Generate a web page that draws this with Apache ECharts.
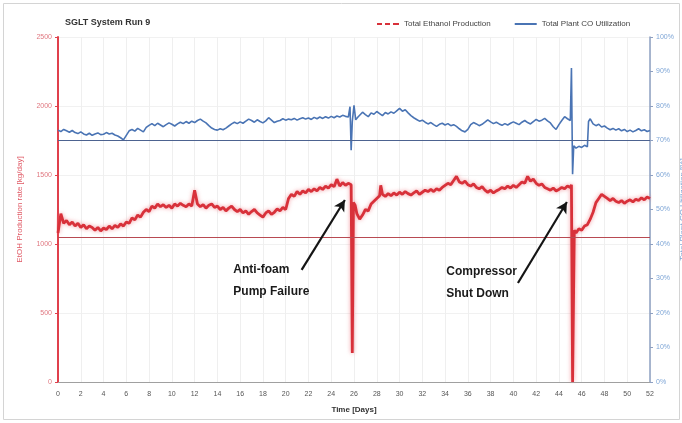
<!DOCTYPE html>
<html>
<head>
<meta charset="utf-8">
<script src="https://cdn.jsdelivr.net/npm/echarts@6/dist/echarts.min.js"></script>
<style>
  html, body { margin: 0; padding: 0; background: #fff; }
  #chart { width: 682px; height: 423px; }
</style>
</head>
<body>
<div id="chart"></div>
<script>
// Total ethanol production, [day, kg/day]
const ethanolProduction = [
  [0,1080],[0.25,1220],[0.5,1150],[0.75,1170],[1,1140],[1.25,1160],[1.5,1130],[1.75,1150],
  [2,1120],[2.25,1140],[2.5,1110],[2.75,1130],[3,1120],[3.25,1100],[3.5,1120],[3.75,1095],
  [4,1115],[4.25,1105],[4.5,1130],[4.75,1110],[5,1135],[5.25,1120],[5.5,1145],[5.75,1130],
  [6,1160],[6.25,1150],[6.5,1190],[6.75,1175],[7,1210],[7.25,1195],[7.5,1230],[7.75,1250],
  [8,1235],[8.25,1275],[8.5,1260],[8.75,1290],[9,1270],[9.25,1285],[9.5,1265],[9.75,1280],
  [10,1260],[10.25,1290],[10.5,1275],[10.75,1295],[11,1280],[11.25,1270],[11.5,1290],[11.75,1275],
  [12,1390],[12.25,1290],[12.5,1270],[12.75,1285],[13,1260],[13.25,1280],[13.5,1290],[13.75,1265],
  [14,1275],[14.25,1250],[14.5,1265],[14.75,1240],[15,1260],[15.25,1275],[15.5,1250],[15.75,1235],
  [16,1250],[16.25,1225],[16.5,1240],[16.75,1215],[17,1235],[17.25,1250],[17.5,1225],[17.75,1210],
  [18,1195],[18.25,1225],[18.5,1240],[18.75,1215],[19,1230],[19.25,1255],[19.5,1240],[19.75,1265],
  [20,1250],[20.25,1330],[20.5,1360],[20.75,1345],[21,1380],[21.25,1360],[21.5,1385],[21.75,1370],
  [22,1395],[22.25,1380],[22.5,1400],[22.75,1385],[23,1410],[23.25,1395],[23.5,1420],[23.75,1405],
  [24,1430],[24.25,1415],[24.5,1470],[24.75,1420],[25,1445],[25.25,1425],[25.5,1440],[25.75,1430],
  [25.85,210],[25.95,1300],[26.1,1280],[26.25,1220],[26.5,1180],[26.75,1210],[27,1250],[27.25,1240],
  [27.5,1290],[27.75,1310],[28,1330],[28.25,1350],[28.35,1425],[28.5,1360],[28.75,1345],
  [29,1365],[29.25,1350],[29.5,1370],[29.75,1355],[30,1375],[30.25,1360],[30.5,1380],[30.75,1365],
  [31,1355],[31.25,1370],[31.5,1385],[31.75,1360],[32,1375],[32.25,1390],[32.5,1380],[32.75,1395],
  [33,1380],[33.25,1400],[33.5,1390],[33.75,1410],[34,1425],[34.25,1440],[34.5,1430],[34.75,1460],
  [35,1490],[35.25,1450],[35.5,1440],[35.75,1455],[36,1430],[36.25,1420],[36.5,1435],[36.75,1410],
  [37,1400],[37.25,1415],[37.5,1390],[37.75,1375],[38,1390],[38.25,1370],[38.5,1385],[38.75,1395],
  [39,1410],[39.25,1400],[39.5,1420],[39.75,1405],[40,1425],[40.25,1410],[40.5,1430],[40.75,1450],
  [41,1440],[41.25,1490],[41.5,1455],[41.75,1470],[42,1440],[42.25,1425],[42.5,1435],[42.75,1410],
  [43,1400],[43.25,1390],[43.5,1405],[43.75,1385],[44,1395],[44.25,1410],[44.5,1400],[44.75,1420],
  [45,1410],[45.1,1430],[45.2,0],[45.35,1100],[45.5,1080],[45.75,1110],[46,1100],[46.25,1130],
  [46.5,1140],[46.75,1180],[47,1230],[47.25,1300],[47.5,1330],[47.75,1360],[48,1345],[48.25,1330],
  [48.5,1315],[48.75,1330],[49,1310],[49.25,1300],[49.5,1315],[49.75,1295],[50,1310],[50.25,1320],
  [50.5,1305],[50.75,1325],[51,1315],[51.25,1335],[51.5,1320],[51.75,1340],[52,1330]
];

// Total plant CO utilization, [day, %]
const coUtilization = [
  [0,73.0],[0.25,72.6],[0.5,73.2],[0.75,72.8],[1,72.4],[1.25,72.9],[1.5,72.3],[1.75,72.0],
  [2,72.5],[2.25,71.9],[2.5,71.6],[2.75,72.1],[3,71.5],[3.25,71.9],[3.5,72.2],[3.75,71.7],
  [4,71.8],[4.25,72.3],[4.5,71.9],[4.75,72.1],[5,71.6],[5.25,71.3],[5.5,70.8],[5.75,70.2],
  [6,71.5],[6.25,72.8],[6.5,73.2],[6.75,72.7],[7,73.5],[7.25,73.0],[7.5,72.5],[7.75,73.8],
  [8,74.4],[8.25,74.9],[8.5,74.3],[8.75,75.0],[9,74.5],[9.25,74.0],[9.5,74.6],[9.75,75.1],
  [10,74.7],[10.25,74.2],[10.5,74.8],[10.75,75.3],[11,74.9],[11.25,75.5],[11.5,75.0],[11.75,75.6],
  [12,75.2],[12.25,75.8],[12.5,76.2],[12.75,75.6],[13,75.1],[13.25,74.3],[13.5,73.6],[13.75,73.2],
  [14,73.0],[14.25,73.4],[14.5,73.1],[14.75,73.6],[15,74.2],[15.25,74.8],[15.5,75.3],[15.75,74.9],
  [16,75.4],[16.25,75.0],[16.5,75.6],[16.75,76.2],[17,75.8],[17.25,75.3],[17.5,76.0],[17.75,75.5],
  [18,75.1],[18.25,75.7],[18.5,76.6],[18.75,75.9],[19,75.2],[19.25,75.6],[19.5,75.8],[19.75,76.3],
  [20,75.9],[20.25,76.2],[20.5,76.0],[20.75,76.4],[21,75.9],[21.25,76.3],[21.5,76.6],[21.75,76.2],
  [22,76.5],[22.25,76.1],[22.5,76.7],[22.75,76.3],[23,76.8],[23.25,76.4],[23.5,76.9],[23.75,76.5],
  [24,77.0],[24.25,76.6],[24.5,77.1],[24.75,76.8],[25,77.3],[25.25,77.0],[25.5,76.8],[25.65,79.8],
  [25.75,67.2],[25.85,75.5],[26,80.2],[26.15,76.0],[26.35,76.8],[26.5,77.3],[26.75,78.2],[27,77.5],
  [27.25,76.9],[27.5,78.0],[27.75,77.6],[28,78.4],[28.25,77.8],[28.5,77.2],[28.75,78.1],[29,77.7],
  [29.25,78.3],[29.5,77.9],[29.75,78.6],[30,79.3],[30.25,78.5],[30.5,78.9],[30.75,78.0],[31,77.2],
  [31.25,76.6],[31.5,76.1],[31.75,75.6],[32,75.9],[32.25,75.3],[32.5,74.8],[32.75,75.2],[33,74.6],
  [33.25,74.1],[33.5,74.7],[33.75,75.0],[34,74.5],[34.25,74.9],[34.5,74.3],[34.75,74.6],[35,74.1],
  [35.25,73.4],[35.5,72.8],[35.75,72.5],[36,73.2],[36.25,74.6],[36.5,75.2],[36.75,74.8],[37,74.3],
  [37.25,74.7],[37.5,75.3],[37.75,76.0],[38,75.4],[38.25,74.9],[38.5,75.3],[38.75,74.8],[39,74.4],
  [39.25,74.9],[39.5,74.5],[39.75,75.0],[40,75.4],[40.25,75.0],[40.5,74.6],[40.75,75.3],[41,75.8],
  [41.25,75.2],[41.5,74.8],[41.75,75.5],[42,76.1],[42.25,75.6],[42.5,75.9],[42.75,76.4],[43,75.7],
  [43.25,75.1],[43.5,74.0],[43.75,73.2],[44,74.6],[44.25,75.8],[44.5,76.9],[44.75,76.3],[45,75.8],
  [45.1,91.0],[45.2,60.2],[45.3,68.5],[45.5,67.8],[45.75,68.3],[46,68.0],[46.25,68.6],[46.5,68.2],
  [46.6,75.5],[46.75,76.3],[47,74.8],[47.25,74.3],[47.5,74.7],[47.75,73.9],[48,74.2],[48.25,73.6],
  [48.5,73.1],[48.75,73.5],[49,73.0],[49.25,73.4],[49.5,72.8],[49.75,73.2],[50,72.6],[50.25,73.0],
  [50.5,72.5],[50.75,72.9],[51,73.4],[51.25,72.8],[51.5,73.1],[51.75,72.6],[52,72.9]
];

// Reference levels
const ethanolTarget = 1050;   // kg/day
const coTarget = 70;          // %

// Event annotations: text anchor [day, kg/day], arrow from/to [day, kg/day]
const eventLabels = ['Anti-foam\nPump Failure', 'Compressor\nShut Down'];
const eventTextAt = [[15.4, 890], [34.1, 880]];
const eventArrowFrom = [[21.4, 812], [40.4, 717]];
const eventArrowTo = [[25.2, 1319], [44.7, 1304]];

const RED = '#d8313a';
const BLUE = '#4a74b4';

const chart = echarts.init(document.getElementById('chart'));

const arrowLines = eventArrowFrom.map((from, i) => [
  { coord: from },
  { coord: eventArrowTo[i] }
]);

chart.setOption({
  animation: false,
  title: {
    text: 'SGLT System Run 9',
    left: 60, top: 13,
    textStyle: { fontFamily: 'Liberation Sans', fontSize: 9, fontWeight: 'bold', color: '#333' }
  },
  legend: {
    left: 372, top: 15,
    itemWidth: 22, itemHeight: 2, itemGap: 24,
    textStyle: { fontFamily: 'Liberation Sans', fontSize: 8, color: '#444' },
    data: [
      { name: 'Total Ethanol Production', icon: 'path://M0,0h5v2h-5z M8,0h5v2h-5z M16,0h6v2h-6z' },
      { name: 'Total Plant CO Utilization', icon: 'rect' }
    ]
  },
  grid: { left: 58, right: 32, top: 37, bottom: 41, containLabel: false, outerBoundsMode: 'none' },
  xAxis: {
    type: 'value', min: 0, max: 52, interval: 2,
    name: 'Time [Days]', nameLocation: 'middle', nameGap: 24,
    nameTextStyle: { fontFamily: 'Liberation Sans', fontSize: 8, fontWeight: 'bold', color: '#333' },
    axisLine: { lineStyle: { color: '#a0a0a0', width: 1 } },
    axisTick: { show: false },
    axisLabel: { fontFamily: 'Liberation Sans', fontSize: 7, color: '#555', margin: 9 },
    splitLine: { show: true, lineStyle: { color: '#efefef', width: 1 } }
  },
  yAxis: [
    {
      type: 'value', min: 0, max: 2500, interval: 500,
      name: 'EtOH Production rate [kg/day]', nameLocation: 'middle', nameGap: 34,
      nameTextStyle: { fontFamily: 'Liberation Sans', fontSize: 8, color: '#e05a66' },
      axisLine: { show: true, lineStyle: { color: '#e0404c', width: 2 } },
      axisTick: { show: true, length: 3, lineStyle: { color: '#e0404c' } },
      axisLabel: { fontFamily: 'Liberation Sans', fontSize: 7, color: '#e07880', margin: 6,
                   formatter: v => String(v) },
      splitLine: { show: true, lineStyle: { color: '#f1f1f1', width: 1 } }
    },
    {
      type: 'value', min: 0, max: 100, interval: 10,
      name: 'Total Plant CO Utilization [%]', nameLocation: 'middle', nameGap: 29,
      nameMoveOverlap: false,
      nameTextStyle: { fontFamily: 'Liberation Sans', fontSize: 8, color: '#7fa6d6' },
      axisLine: { show: true, lineStyle: { color: '#8ea0c2', width: 1.5 } },
      axisTick: { show: true, length: 3, lineStyle: { color: '#8ea0c2' } },
      axisLabel: { fontFamily: 'Liberation Sans', fontSize: 7, color: '#7fa6d6', margin: 6,
                   formatter: v => v + '%' },
      splitLine: { show: false }
    }
  ],
  series: [
    {
      name: 'Total Ethanol Production',
      type: 'line', yAxisIndex: 0, data: ethanolProduction,
      showSymbol: false, symbol: 'none', z: 3,
      lineStyle: { color: RED, width: 2.8, shadowColor: 'rgba(235,90,100,0.6)', shadowBlur: 4 },
      itemStyle: { color: RED },
      markLine: {
        silent: true, symbol: ['none', 'none'], label: { show: false },
        lineStyle: { color: '#b84a52', width: 1, type: 'solid' },
        data: [{ yAxis: ethanolTarget }]
      }
    },
    {
      name: 'Total Plant CO Utilization',
      type: 'line', yAxisIndex: 1, data: coUtilization,
      showSymbol: false, symbol: 'none', z: 3,
      lineStyle: { color: BLUE, width: 1.6 },
      itemStyle: { color: BLUE },
      markLine: {
        silent: true, symbol: ['none', 'none'], label: { show: false },
        lineStyle: { color: '#4d6390', width: 1, type: 'solid' },
        data: [{ yAxis: coTarget }]
      }
    },
    {
      // event arrows, drawn in the production-rate coordinate system
      name: 'events',
      type: 'line', yAxisIndex: 0, data: [],
      z: 5,
      markLine: {
        silent: true, symbol: ['none', 'arrow'], symbolSize: [9, 11],
        label: { show: false },
        lineStyle: { color: '#151515', width: 2.2, type: 'solid' },
        data: arrowLines
      }
    }
  ]
});

// Event captions and outer frame
const captions = eventLabels.map((txt, i) => {
  const p = chart.convertToPixel({ xAxisIndex: 0, yAxisIndex: 0 }, eventTextAt[i]);
  return {
    type: 'text', x: p[0], y: p[1], z: 10,
    style: {
      text: txt, fill: '#1a1a1a',
      font: 'bold 12px "Liberation Sans"', lineHeight: 22,
      textAlign: 'left', textVerticalAlign: 'top'
    }
  };
});

chart.setOption({
  graphic: [
    { type: 'rect', shape: { x: 3.5, y: 3.5, width: 676, height: 416 },
      style: { fill: 'none', stroke: '#d4d4d4', lineWidth: 1 }, z: -1 },
    ...captions
  ]
});
</script>
</body>
</html>
